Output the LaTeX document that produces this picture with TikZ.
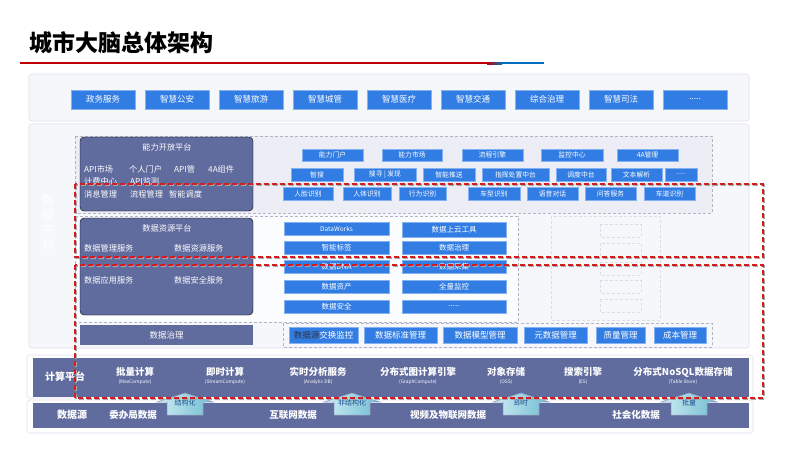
\documentclass[tikz,border=0pt]{standalone}
\usepackage{fontspec}
\setmainfont{Noto Sans CJK SC}
\usepackage{tikz}
\usetikzlibrary{positioning,calc}
\definecolor{btnblue}{RGB}{50,125,228}
\definecolor{slate}{RGB}{96,107,158}
\definecolor{panelbg}{RGB}{246,247,251}
\definecolor{panelline}{RGB}{222,223,240}
\definecolor{dashgray}{RGB}{178,180,198}
\definecolor{capbg}{RGB}{237,238,245}
\definecolor{hdred}{RGB}{192,0,0}
\definecolor{hdblue}{RGB}{0,112,192}
\definecolor{arrowtxt}{RGB}{28,78,140}
\definecolor{arrowl}{RGB}{205,236,243}
\definecolor{arrowr}{RGB}{112,188,210}
\definecolor{ddred}{RGB}{210,30,30}
\definecolor{darktxt}{RGB}{50,50,60}
\tikzset{>=stealth,
  panel/.style={draw=panelline,fill=panelbg,rounded corners=3pt,line width=0.6pt},
  dbox/.style={draw=dashgray,dash pattern=on 3pt off 2pt,line width=0.6pt},
  faintbox/.style={draw=dashgray!45,dash pattern=on 3pt off 2pt,line width=0.6pt},
  slatebox/.style={fill=slate,rounded corners=4pt},
  btn/.style={fill=btnblue,draw=btnblue!60!white,line width=0.4pt,text=white,inner sep=0pt,font=\fontsize{8.5}{9}\selectfont},
  appbtn/.style={btn,minimum width=64,minimum height=19},
  sbtn/.style={btn,font=\fontsize{6.8}{7}\selectfont},
  dbtn/.style={btn,font=\fontsize{7.5}{8}\selectfont,minimum height=13},
  gbtn/.style={btn,minimum height=16},
  slab/.style={text=white,inner sep=0pt,font=\fontsize{8.2}{9}\selectfont},
  ctitle/.style={text=white,inner sep=0pt,font=\fontsize{9.5}{10}\selectfont\bfseries},
  csub/.style={text=white,inner sep=0pt,font=\fontsize{4.8}{5}\selectfont},
  uparrow/.style={left color=arrowl,right color=arrowr,draw=slate!70,line width=0.5pt},
  alab/.style={text=arrowtxt,inner sep=0pt,font=\fontsize{7}{7}\selectfont},
  ddshadow/.style={draw=gray!70,line width=1.8pt,dash pattern=on 5pt off 3pt},
  ddline/.style={draw=ddred,line width=1.6pt,dash pattern=on 5pt off 3pt}
}
\begin{document}
\begin{tikzpicture}[x=1pt,y=-1pt]
\useasboundingbox (0,0) rectangle (800,450);
\fill[white] (0,0) rectangle (800,450);
% title and header line
\node[anchor=west,inner sep=0pt,font=\fontsize{23}{23}\selectfont\bfseries] (title) at (29,43) {城市大脑总体架构};
\draw[hdred,line width=2pt] (20,63) -- (487,63);
\shade[left color=hdred,right color=hdblue] (487,62) rectangle (502,64);
\draw[hdblue,line width=2pt] (502,63) -- (544,63);
% application layer
\draw[panel] (29,74) rectangle (749,121);
\node[appbtn] (zwfw) at (103,99.5) {政务服务};
\node[appbtn] (zhga) at (177,99.5) {智慧公安};
\node[appbtn] (zhly) at (251,99.5) {智慧旅游};
\node[appbtn] (zhcg) at (325,99.5) {智慧城管};
\node[appbtn] (zhyl) at (399,99.5) {智慧医疗};
\node[appbtn] (zhjt) at (473,99.5) {智慧交通};
\node[appbtn] (zhzl) at (547,99.5) {综合治理};
\node[appbtn] (zhsf) at (621,99.5) {智慧司法};
\node[appbtn] (appmore) at (695,99.5) {.....};
% data middle platform
\draw[panel] (29,124) rectangle (749,348);
\node[text=white,inner sep=0pt,align=center,font=\fontsize{12}{14.7}\selectfont] (midlabel) at (48,222) {数\\据\\中\\台};
% capability open platform
\draw[dbox,fill=capbg] (75,136) rectangle (712,213);
\draw[slatebox] (80,137) rectangle (253,211);
\node[slab] (captitle) at (167,147) {能力开放平台};
\node[slab,anchor=west] (apimkt) at (84,169) {API市场};
\node[slab,anchor=west] (grmh) at (129,169) {个人门户};
\node[slab,anchor=west] (apigl) at (174,169) {API管};
\node[slab,anchor=west] (fourA) at (208,169) {4A组件};
\node[slab,anchor=west] (jfzx) at (84,181) {计费中心};
\node[slab,anchor=west] (apijc) at (130,181) {API监测};
\node[slab,anchor=west] (xxgl) at (84,194) {消息管理};
\node[slab,anchor=west] (lcgl) at (130,194) {流程管理};
\node[slab,anchor=west] (zndd) at (169,194) {智能调度};
\node[sbtn,minimum width=61,minimum height=12] (nlmh) at (332.5,155) {能力门户};
\node[sbtn,minimum width=60,minimum height=12] (nlsc) at (412,155) {能力市场};
\node[sbtn,minimum width=61,minimum height=12] (lcyq) at (492.5,155) {流程引擎};
\node[sbtn,minimum width=62,minimum height=12] (jkzx) at (572,155) {监控中心};
\node[sbtn,minimum width=61,minimum height=12] (fourAgl) at (647.5,155) {4A管理};
\node[sbtn,minimum width=52,minimum height=13] (zs) at (317,174.5) {智搜};
\node[sbtn,minimum width=62,minimum height=13] (sxfx) at (385,174.5) {搜寻 | 发现};
\node[sbtn,minimum width=52,minimum height=13] (znts) at (449,174.5) {智能推送};
\node[sbtn,minimum width=67,minimum height=13] (zhcz) at (515.5,174.5) {指挥处置中台};
\node[sbtn,minimum width=50,minimum height=13] (ddzt) at (581,174.5) {调度中台};
\node[sbtn,minimum width=51,minimum height=13] (wbjx) at (636.5,174.5) {文本解析};
\node[sbtn,minimum width=32,minimum height=13] (capmore) at (681,174.5) {.....};
\node[sbtn,minimum width=50,minimum height=13] (rlsb) at (308,194) {人脸识别};
\node[sbtn,minimum width=48,minimum height=13] (rtsb) at (367,194) {人体识别};
\node[sbtn,minimum width=47,minimum height=13] (xwsb) at (422.5,194) {行为识别};
\node[sbtn,minimum width=52,minimum height=13] (cxsb) at (494,194) {车型识别};
\node[sbtn,minimum width=51,minimum height=13] (yydh) at (552.5,194) {语音对话};
\node[sbtn,minimum width=51,minimum height=13] (wdfw) at (610.5,194) {问答服务};
\node[sbtn,minimum width=51,minimum height=13] (cdsb) at (669.5,194) {车道识别};
% data resource platform
\draw[dbox,fill=panelbg!40!white] (75,216) rectangle (518,322);
\draw[faintbox] (551,216) rectangle (660,320);
\draw[faintbox] (600,224) rectangle (641,237);
\draw[faintbox] (600,243) rectangle (641,257);
\draw[faintbox] (600,262) rectangle (641,275);
\draw[faintbox] (600,280) rectangle (641,293);
\draw[faintbox] (600,299) rectangle (641,312);
\draw[slatebox] (80,218) rectangle (253,315);
\node[slab] (restitle) at (167,228) {数据资源平台};
\node[slab,anchor=west] (sjglfw) at (84,248) {数据管理服务};
\node[slab,anchor=west] (sjzyfw) at (174,248) {数据资源服务};
\node[slab,anchor=west] (sjyyfw) at (84,280) {数据应用服务};
\node[slab,anchor=west] (sjaqfw) at (174,280) {数据安全服务};
\node[dbtn,minimum width=105,font=\fontsize{6.5}{7}\selectfont] (dataworks) at (336.5,228.5) {DataWorks};
\node[dbtn,minimum width=104,minimum height=15] (sysy) at (454,229.5) {数据上云工具};
\node[dbtn,minimum width=105] (znbq) at (336.5,248) {智能标签};
\node[dbtn,minimum width=104] (sjzl) at (454,248) {数据治理};
\node[dbtn,minimum width=105] (sjdna) at (336.5,266.5) {数据DNA};
\node[dbtn,minimum width=104] (sjcj) at (454,266.5) {数据采集};
\node[dbtn,minimum width=105] (sjzc) at (336.5,287) {数据资产};
\node[dbtn,minimum width=104] (qljk) at (454,287) {全量监控};
\node[dbtn,minimum width=105] (sjaq) at (336.5,306.5) {数据安全};
\node[dbtn,minimum width=104] (resmore) at (454,306.5) {.....};
% data governance
\draw[dbox] (283,323) rectangle (712,347);
\node[fill=slate,text=white,inner sep=0pt,minimum width=173,minimum height=20,font=\fontsize{8.5}{9}\selectfont] (sjzlbox) at (166.5,335) {数据治理};
\node[gbtn,minimum width=69] (jhjk) at (323.5,335) {{\color{darktxt}数据源}交换监控};
\node[gbtn,minimum width=73] (bzgl) at (400.5,335) {数据标准管理};
\node[gbtn,minimum width=74] (mxgl) at (480,335) {数据模型管理};
\node[gbtn,minimum width=63] (ysjgl) at (555.5,335) {元数据管理};
\node[gbtn,minimum width=49] (zlgl) at (620.5,335) {质量管理};
\node[gbtn,minimum width=52] (cbgl) at (680,335) {成本管理};
% compute platform
\draw[panel,fill=white] (27,355) rectangle (753,398);
\fill[slate] (33,358) rectangle (749,397);
\node[ctitle,font=\fontsize{10}{10}\selectfont\bfseries] (jspt) at (65,377) {计算平台};
\node[ctitle] (pljs) at (135,372) {批量计算};
\node[csub,below=2.5pt of pljs] (plsub) {(MaxCompute)};
\node[ctitle] (jsjs) at (225,372) {即时计算};
\node[csub,below=2.5pt of jsjs] (jssub) {(StreamCompute)};
\node[ctitle] (ssfx) at (318,372) {实时分析服务};
\node[csub,below=2.5pt of ssfx] (sssub) {(Analytic DB)};
\node[ctitle] (txjs) at (418,372) {分布式图计算引擎};
\node[csub,below=2.5pt of txjs] (txsub) {(GraphCompute)};
\node[ctitle] (dxcc) at (506,372) {对象存储};
\node[csub,below=2.5pt of dxcc] (dxsub) {(OSS)};
\node[ctitle] (ssyq) at (583,372) {搜索引擎};
\node[csub,below=2.5pt of ssyq] (sysub) {(ES)};
\node[ctitle] (nosql) at (683,372) {分布式NoSQL数据存储};
\node[csub,below=2.5pt of nosql] (nosqlsub) {(Table Store)};
% data sources
\draw[panel,fill=white] (27,400) rectangle (753,433);
\fill[slate] (33,403) rectangle (749,428);
\node[ctitle,font=\fontsize{10}{10}\selectfont\bfseries] (sjy) at (72,415) {数据源};
\node[ctitle] (wbj) at (133,415) {委办局数据};
\node[ctitle] (hlw) at (293,415) {互联网数据};
\node[ctitle] (spwl) at (448,415) {视频及物联网数据};
\node[ctitle] (shh) at (636,415) {社会化数据};
% up arrows
\coordinate (a1) at (185,415);
\coordinate (a2) at (352,415);
\coordinate (a3) at (521,415);
\coordinate (a4) at (689,415);
\draw[uparrow] (a1) ++(-18,0) -- ++(0,-13) -- ++(-10,0) -- ++(28,-9) -- ++(28,9) -- ++(-10,0) -- ++(0,13) -- cycle;
\draw[uparrow] (a2) ++(-18,0) -- ++(0,-13) -- ++(-10,0) -- ++(28,-9) -- ++(28,9) -- ++(-10,0) -- ++(0,13) -- cycle;
\draw[uparrow] (a3) ++(-18,0) -- ++(0,-13) -- ++(-10,0) -- ++(28,-9) -- ++(28,9) -- ++(-10,0) -- ++(0,13) -- cycle;
\draw[uparrow] (a4) ++(-18,0) -- ++(0,-13) -- ++(-10,0) -- ++(28,-9) -- ++(28,9) -- ++(-10,0) -- ++(0,13) -- cycle;
\node[alab] (jgh) at (185,403) {结构化};
\node[alab] (fjgh) at (352,403) {非结构化};
\node[alab] (js) at (521,403) {即时};
\node[alab] (pl) at (689,403) {批量};
% red dashed frames
\draw[ddshadow] (76,185) rectangle (764,258);
\draw[ddline] (75,184) rectangle (763,257);
\draw[ddshadow] (76,266) rectangle (764,399);
\draw[ddline] (75,265) rectangle (763,398);
\end{tikzpicture}
\end{document}
